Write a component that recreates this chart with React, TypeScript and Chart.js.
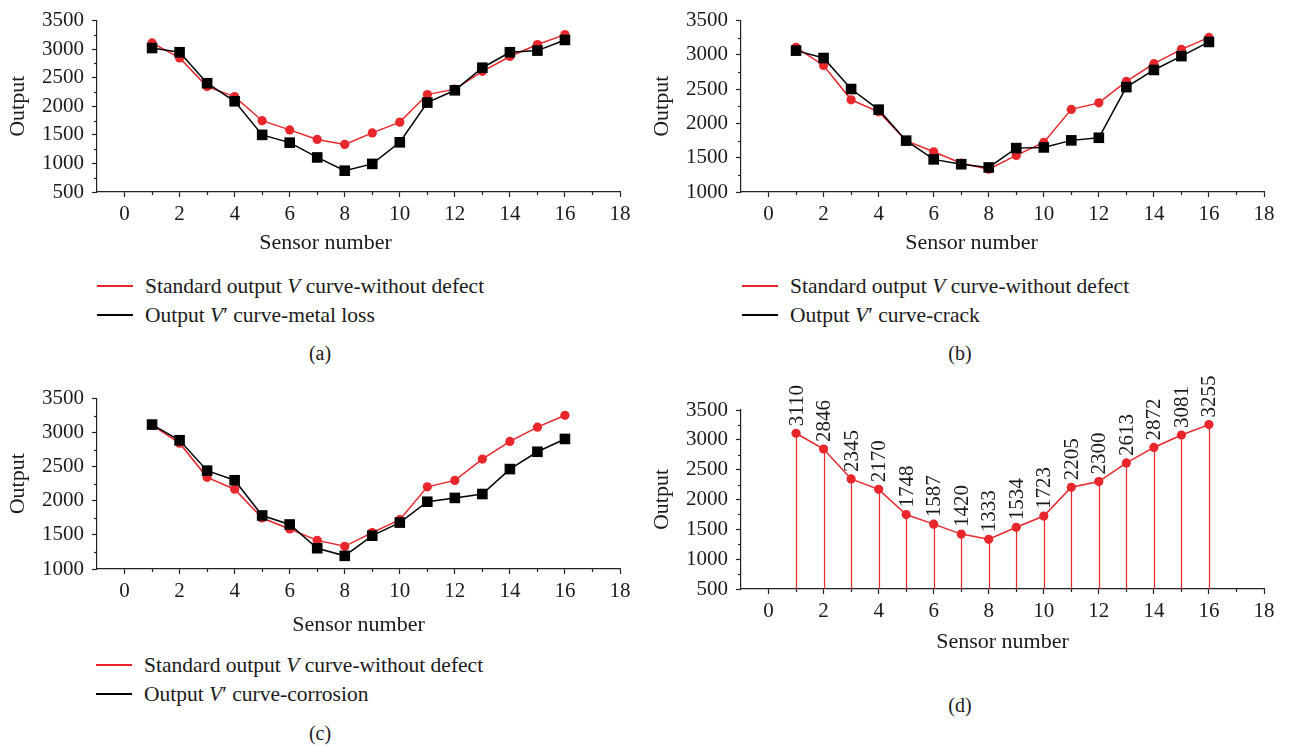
import React, { useEffect, useRef } from 'react';
import { Chart, registerables } from 'chart.js';

Chart.register(...registerables);

// ---------- data ----------
const sensorNumbers = [1, 2, 3, 4, 5, 6, 7, 8, 9, 10, 11, 12, 13, 14, 15, 16];
const standardV = [3110, 2846, 2345, 2170, 1748, 1587, 1420, 1333, 1534, 1723, 2205, 2300, 2613, 2872, 3081, 3255];
const metalLossV = [3020, 2946, 2404, 2088, 1500, 1364, 1105, 873, 992, 1370, 2065, 2280, 2675, 2946, 2975, 3161];
const crackV = [3062, 2954, 2502, 2201, 1749, 1476, 1405, 1358, 1640, 1650, 1753, 1791, 2530, 2780, 2982, 3189];
const corrosionV = [3119, 2889, 2443, 2302, 1785, 1653, 1305, 1193, 1489, 1681, 1987, 2043, 2100, 2466, 2720, 2908];

const xTickValues = [0, 2, 4, 6, 8, 10, 12, 14, 16, 18];
const xMinorValues = [1, 3, 5, 7, 9, 11, 13, 15, 17];
const yTicks500 = [500, 1000, 1500, 2000, 2500, 3000, 3500];
const yMinor500 = [750, 1250, 1750, 2250, 2750, 3250];
const yTicks1000 = [1000, 1500, 2000, 2500, 3000, 3500];
const yMinor1000 = [1250, 1750, 2250, 2750, 3250];

const xTitle = 'Sensor number';
const yTitle = 'Output';
const legendStandard = 'Standard output ';
const captionLabels = ['(a)', '(b)', '(c)', '(d)'];

// ---------- styles ----------
const FONT = '"Liberation Serif", "Times New Roman", serif';
const RED = '#e8262b';
const BLACK = '#000000';
const AXIS = '#222222';
const TEXT = '#1a1a1a';

const toPts = (ys: number[]) => ys.map((y, i) => ({ x: sensorNumbers[i], y }));

const minorTicksPlugin = {
  id: 'minorTicks',
  afterDraw(chart: any, _args: any, opts: any) {
    const { ctx, scales } = chart;
    const x = scales.x;
    const y = scales.y;
    ctx.save();
    ctx.strokeStyle = AXIS;
    ctx.lineWidth = 1.2;
    for (const v of xMinorValues) {
      const px = Math.round(x.getPixelForValue(v)) + 0.5;
      ctx.beginPath();
      ctx.moveTo(px, y.bottom);
      ctx.lineTo(px, y.bottom + 3);
      ctx.stroke();
    }
    for (const v of opts.yMinor || []) {
      const py = Math.round(y.getPixelForValue(v)) + 0.5;
      ctx.beginPath();
      ctx.moveTo(x.left - 3, py);
      ctx.lineTo(x.left, py);
      ctx.stroke();
    }
    // x-axis title, with a horizontal offset relative to the axis centre
    const xs = scales.x;
    ctx.fillStyle = TEXT;
    ctx.font = `22px ${FONT}`;
    ctx.textAlign = 'center';
    ctx.textBaseline = 'middle';
    ctx.fillText(xTitle, (xs.left + xs.right) / 2 + (opts.titleOffset || 0), xs.bottom - 17);
    ctx.restore();
  },
};

const stemLabelPlugin = {
  id: 'stemLabels',
  beforeDatasetsDraw(chart: any, _args: any, opts: any) {
    if (!opts.enabled) return;
    const { ctx, chartArea } = chart;
    const meta = chart.getDatasetMeta(0);
    ctx.save();
    ctx.strokeStyle = RED;
    ctx.lineWidth = 1.2;
    meta.data.forEach((pt: any) => {
      const px = Math.round(pt.x) + 0.5;
      ctx.beginPath();
      ctx.moveTo(px, pt.y);
      ctx.lineTo(px, chartArea.bottom);
      ctx.stroke();
    });
    ctx.restore();
  },
  afterDatasetsDraw(chart: any, _args: any, opts: any) {
    if (!opts.enabled) return;
    const { ctx } = chart;
    const meta = chart.getDatasetMeta(0);
    const values = chart.data.datasets[0].data;
    ctx.save();
    ctx.fillStyle = TEXT;
    ctx.font = `21px ${FONT}`;
    ctx.textAlign = 'left';
    ctx.textBaseline = 'middle';
    meta.data.forEach((pt: any, i: number) => {
      ctx.save();
      ctx.translate(pt.x, pt.y - 7);
      ctx.rotate(-Math.PI / 2);
      ctx.fillText(String(values[i].y), 0, 1);
      ctx.restore();
    });
    ctx.restore();
  },
};

type PanelProps = {
  left: number;
  top: number;
  width: number;
  height: number;
  padTop: number;
  padRight: number;
  xAxisHeight: number;
  yMin: number;
  yTicks: number[];
  yMinor: number[];
  titleOffset: number;
  defect?: number[];
  stems?: boolean;
};

function Panel(p: PanelProps) {
  const ref = useRef<HTMLCanvasElement>(null);
  useEffect(() => {
    const datasets: any[] = [];
    if (p.defect) {
      datasets.push({
        data: toPts(p.defect),
        borderColor: BLACK,
        backgroundColor: BLACK,
        borderWidth: 1.5,
        pointStyle: 'rect',
        pointRadius: 7.5,
        pointBorderWidth: 0,
        order: 0,
        clip: false,
      });
    }
    datasets.push({
      data: toPts(standardV),
      borderColor: RED,
      backgroundColor: RED,
      borderWidth: 1.5,
      pointStyle: 'circle',
      pointRadius: 4.6,
      pointBorderWidth: 0,
      order: 1,
      clip: false,
    });
    const chart = new Chart(ref.current as HTMLCanvasElement, {
      type: 'line',
      data: { datasets },
      plugins: [minorTicksPlugin, stemLabelPlugin],
      options: {
        responsive: false,
        animation: false,
        events: [],
        layout: { padding: { top: p.padTop, right: p.padRight, left: 0, bottom: 0 } },
        plugins: {
          legend: { display: false },
          tooltip: { enabled: false },
          minorTicks: { yMinor: p.yMinor, titleOffset: p.titleOffset },
          stemLabels: { enabled: !!p.stems },
        } as any,
        scales: {
          x: {
            type: 'linear',
            min: -1,
            max: 18,
            afterBuildTicks: (s: any) => {
              s.ticks = xTickValues.map((v) => ({ value: v }));
            },
            afterFit: (s: any) => {
              s.height = p.xAxisHeight;
            },
            ticks: {
              color: TEXT,
              font: { family: FONT, size: 21 },
              padding: 5,
              maxRotation: 0,
              autoSkip: false,
              callback: (v: any) => String(v),
            },
            grid: { display: true, drawOnChartArea: false, drawTicks: true, tickLength: 5, tickColor: AXIS, tickWidth: 1.2 },
            border: { display: true, color: AXIS, width: 1.2 },
            title: { display: false },
          },
          y: {
            type: 'linear',
            min: p.yMin,
            max: 3500,
            afterBuildTicks: (s: any) => {
              s.ticks = p.yTicks.map((v) => ({ value: v }));
            },
            afterFit: (s: any) => {
              s.width = 97;
            },
            ticks: {
              color: TEXT,
              font: { family: FONT, size: 21 },
              padding: 8,
              autoSkip: false,
              callback: (v: any) => String(v),
            },
            grid: { display: true, drawOnChartArea: false, drawTicks: true, tickLength: 5, tickColor: AXIS, tickWidth: 1.2 },
            border: { display: true, color: AXIS, width: 1.2 },
            title: { display: true, text: yTitle, color: TEXT, font: { family: FONT, size: 22 }, padding: { top: 5, bottom: 0 } },
          },
        },
      } as any,
    });
    return () => chart.destroy();
  }, []);
  return (
    <div style={{ position: 'absolute', left: p.left, top: p.top, width: p.width, height: p.height }}>
      <canvas ref={ref} width={p.width} height={p.height} style={{ width: p.width, height: p.height, display: 'block' }} />
    </div>
  );
}

function Legend({ left, top, defectLabel }: { left: number; top: number; defectLabel: string }) {
  const row = (color: string, content: React.ReactNode, y: number) => (
    <div style={{ position: 'absolute', left, top: y - 13, height: 26, display: 'flex', alignItems: 'center', whiteSpace: 'nowrap' }}>
      <div style={{ width: 36, height: 1.5, background: color, marginRight: 12 }} />
      <span style={{ fontFamily: FONT, fontSize: 21.5, color: TEXT }}>{content}</span>
    </div>
  );
  return (
    <>
      {row(RED, <>{legendStandard}<i>V</i> curve-without defect</>, top)}
      {row(BLACK, <>Output <i>V</i>′ curve-{defectLabel}</>, top + 29)}
    </>
  );
}

function Caption({ x, y, text }: { x: number; y: number; text: string }) {
  return (
    <div style={{ position: 'absolute', left: x - 30, top: y - 13, width: 60, height: 26, lineHeight: '26px', textAlign: 'center', fontFamily: FONT, fontSize: 20, color: TEXT }}>
      {text}
    </div>
  );
}

export default function App() {
  return (
    <div style={{ position: 'absolute', left: 0, top: 0, width: 1289, height: 746, background: '#fff', overflow: 'hidden' }}>
      <Panel left={0} top={0} width={640} height={260} padTop={14} padRight={20} xAxisHeight={68} yMin={500} yTicks={yTicks500} yMinor={yMinor500} titleOffset={-33} defect={metalLossV} />
      <Panel left={644} top={0} width={645} height={260} padTop={14} padRight={25} xAxisHeight={68} yMin={1000} yTicks={yTicks1000} yMinor={yMinor1000} titleOffset={-31} defect={crackV} />
      <Panel left={0} top={378} width={640} height={264} padTop={14} padRight={20} xAxisHeight={73} yMin={1000} yTicks={yTicks1000} yMinor={yMinor1000} titleOffset={0} defect={corrosionV} />
      <Panel left={644} top={370} width={645} height={289} padTop={40} padRight={25} xAxisHeight={70} yMin={500} yTicks={yTicks500} yMinor={yMinor500} titleOffset={0} stems />

      <Legend left={97} top={286} defectLabel="metal loss" />
      <Legend left={742} top={286} defectLabel="crack" />
      <Legend left={96} top={665} defectLabel="corrosion" />

      <Caption x={320} y={353} text={captionLabels[0]} />
      <Caption x={960} y={353} text={captionLabels[1]} />
      <Caption x={320} y={733} text={captionLabels[2]} />
      <Caption x={960} y={705} text={captionLabels[3]} />
    </div>
  );
}
